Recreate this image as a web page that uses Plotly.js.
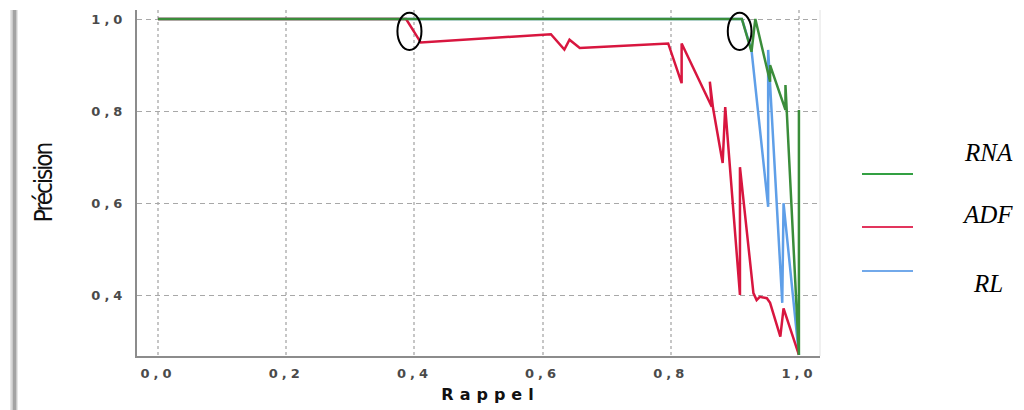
<!DOCTYPE html>
<html>
<head>
<meta charset="utf-8">
<script src="https://cdn.plot.ly/plotly-3.0.1.min.js"></script>
<style>
  html, body { margin: 0; padding: 0; background: #ffffff; }
  #chart { width: 1024px; height: 410px; }
  #chart .xtick text, #chart .ytick text { letter-spacing: 4px; }
  #chart .xtitle { letter-spacing: 6px; transform: translate(12px, -3px); }
  #chart .ytitle { letter-spacing: -2px; }
</style>
</head>
<body>
<div id="chart"></div>
<script>
// Precision-recall curves of the three classifiers
const seriesNames = ['RNA', 'ADF', 'RL'];

const rnaRecall    = [0, 0.911, 0.926, 0.932, 0.955, 0.955, 0.979, 0.979, 1.0, 1.0];
const rnaPrecision = [1, 1, 0.929, 1.0, 0.864, 0.900, 0.803, 0.857, 0.272, 0.803];

const adfRecall    = [0, 0.387, 0.410, 0.613, 0.634, 0.642, 0.658, 0.796, 0.817, 0.817,
                      0.864, 0.861, 0.866, 0.881, 0.885, 0.908, 0.908, 0.929, 0.934, 0.939,
                      0.950, 0.955, 0.971, 0.976, 1.0];
const adfPrecision = [1, 1, 0.949, 0.967, 0.934, 0.955, 0.937, 0.947, 0.861, 0.947,
                      0.810, 0.864, 0.807, 0.688, 0.809, 0.402, 0.679, 0.406, 0.391, 0.398,
                      0.395, 0.385, 0.312, 0.373, 0.272];

const rlRecall     = [0, 0.911, 0.926, 0.952, 0.952, 0.974, 0.976, 1.0];
const rlPrecision  = [1, 1, 0.933, 0.593, 0.933, 0.385, 0.601, 0.272];

const xTickVals = [0, 0.2, 0.4, 0.6, 0.8, 1.0];
const xTickText = ['0,0', '0,2', '0,4', '0,6', '0,8', '1,0'];
const yTickVals = [0.4, 0.6, 0.8, 1.0];
const yTickText = ['0,4', '0,6', '0,8', '1,0'];

// Points circled on the curves (recall, precision bounds)
const circleRecall    = [[0.3735, 0.411], [0.889, 0.926]];
const circlePrecision = [[0.9328, 1.0137], [0.9328, 1.0137]];

// ---- styling ----
const W = 1024, H = 410;
const M = { l: 137, r: 204, t: 10, b: 54 };
const PW = W - M.l - M.r, PH = H - M.t - M.b;
const px2x = px => (px - M.l) / PW;
const px2y = py => (H - M.b - py) / PH;

const lineColors   = ['#3a8d3a', '#d8163f', '#5f9fe8'];
const legendColors = ['#33a043', '#e2355d', '#72a9ea'];

const traces = [
  { x: rlRecall,  y: rlPrecision,  name: seriesNames[2], color: lineColors[2] },
  { x: adfRecall, y: adfPrecision, name: seriesNames[1], color: lineColors[1] },
  { x: rnaRecall, y: rnaPrecision, name: seriesNames[0], color: lineColors[0] }
].map(s => ({
  type: 'scatter', mode: 'lines', x: s.x, y: s.y, name: s.name,
  line: { color: s.color, width: 2.5 }, hoverinfo: 'skip'
}));

const shapes = [];
// soft grey edge on the left of the panel
[[10, 18, '#e6e6e6'], [11.5, 17, '#c9c9c9'], [13, 16, '#a3a3a3']].forEach(([a, b, c]) => {
  shapes.push({ type: 'rect', xref: 'paper', yref: 'paper', layer: 'below',
    x0: px2x(a), x1: px2x(b), y0: px2y(412), y1: px2y(10),
    line: { width: 0 }, fillcolor: c });
});
// faint right border of the plot area
shapes.push({ type: 'line', xref: 'paper', yref: 'paper', x0: 1, x1: 1, y0: 0, y1: 1,
  line: { color: '#e2e2e2', width: 1 } });
// circles
circleRecall.forEach((xr, i) => {
  shapes.push({ type: 'circle', xref: 'x', yref: 'y',
    x0: xr[0], x1: xr[1], y0: circlePrecision[i][0], y1: circlePrecision[i][1],
    line: { color: '#000000', width: 2 } });
});
// legend keys
const keyY = [174, 227, 271];
const labelPos = [[988, 152], [987, 215], [988, 283]];
const annotations = [];
seriesNames.forEach((n, i) => {
  shapes.push({ type: 'line', xref: 'paper', yref: 'paper',
    x0: px2x(862), x1: px2x(913), y0: px2y(keyY[i]), y1: px2y(keyY[i]),
    line: { color: legendColors[i], width: 2 } });
  annotations.push({ xref: 'paper', yref: 'paper', x: px2x(labelPos[i][0]), y: px2y(labelPos[i][1]),
    xanchor: 'center', yanchor: 'middle', showarrow: false, text: n,
    font: { family: 'Liberation Serif, Times New Roman, serif', size: 25, style: 'italic', color: '#000' } });
});

const tickFont = { family: 'DejaVu Sans, Liberation Sans, sans-serif', size: 13, weight: 'bold', color: '#4a4a4a' };

const layout = {
  width: W, height: H,
  margin: M,
  paper_bgcolor: '#ffffff', plot_bgcolor: '#ffffff',
  showlegend: false,
  xaxis: {
    range: [-0.0329, 1.0329],
    tickmode: 'array', tickvals: xTickVals, ticktext: xTickText,
    showgrid: true, gridcolor: '#c6c6c6', gridwidth: 2, griddash: 'dot',
    zeroline: false, showline: true, linecolor: '#8c8c8c', linewidth: 2,
    ticks: '', ticklabelstandoff: 4, tickfont: tickFont,
    title: { text: 'Rappel', standoff: 12,
      font: { family: 'DejaVu Sans, Liberation Sans, sans-serif', size: 16, weight: 'bold', color: '#111' } }
  },
  yaxis: {
    range: [0.2698, 1.0195],
    tickmode: 'array', tickvals: yTickVals, ticktext: yTickText,
    showgrid: true, gridcolor: '#a8a8a8', gridwidth: 1, griddash: '5px,4px',
    zeroline: false, showline: true, linecolor: '#8c8c8c', linewidth: 2,
    ticks: '', ticklabelstandoff: 6, tickfont: tickFont,
    title: { text: 'Précision', standoff: 44,
      font: { family: 'Liberation Sans Narrow, DejaVu Sans Condensed, Liberation Sans, sans-serif', size: 24, color: '#111' } }
  },
  shapes: shapes,
  annotations: annotations
};

Plotly.newPlot('chart', traces, layout, { staticPlot: true, displayModeBar: false });
</script>
</body>
</html>
